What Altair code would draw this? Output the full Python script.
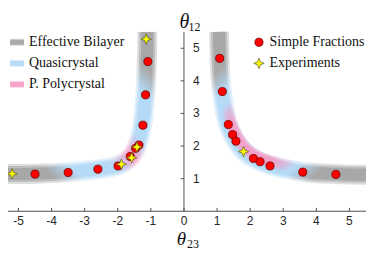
import altair as alt
import pandas as pd

# ---------------- data ----------------
# Simple fractions (red circles)
frac_x = [-1.09, -1.16, -1.24, -1.36, -1.46, -1.62, -1.99, -2.60, -3.50, -4.50,
          1.08, 1.16, 1.34, 1.47, 1.57, 2.10, 2.30, 2.60, 3.59, 4.59]
frac_y = [4.59, 3.57, 2.64, 2.03, 1.93, 1.68, 1.39, 1.29, 1.19, 1.14,
          4.69, 3.67, 2.66, 2.35, 2.15, 1.62, 1.52, 1.39, 1.20, 1.13]
# Experiments (yellow stars)
exp_x = [-1.14, -1.42, -1.58, -1.89, -5.19, 1.80]
exp_y = [5.28, 1.97, 1.64, 1.44, 1.15, 1.83]

# band centre lines
left_band_x = [-1.11, -1.11, -1.13, -1.17, -1.25, -1.40, -1.60, -1.95, -2.60, -3.50, -4.50, -5.60]
left_band_y = [5.50, 5.00, 4.40, 3.60, 2.70, 2.05, 1.68, 1.42, 1.29, 1.20, 1.15, 1.14]
right_band_x = [1.06, 1.07, 1.09, 1.15, 1.32, 1.55, 1.80, 2.10, 2.60, 3.60, 4.60, 5.50]
right_band_y = [5.50, 5.00, 4.40, 3.67, 2.68, 2.18, 1.85, 1.62, 1.41, 1.21, 1.14, 1.12]
pink_x = [1.28, 1.42, 1.62, 1.87, 2.15, 2.63, 3.30]
pink_y = [3.30, 2.72, 2.28, 1.93, 1.72, 1.52, 1.36]

x_ticks = [-5, -4, -3, -2, -1, 0, 1, 2, 3, 4, 5]
x_tick_labels = ["-5", "-4", "-3", "-2", "-1", "0", "1", "2", "3", "4", "5"]
y_ticks = [1, 2, 3, 4, 5]
y_tick_labels = ["1", "2", "3", "4", "5"]

legend_left = ["Effective Bilayer", "Quasicrystal", "P. Polycrystal"]
legend_right = ["Simple Fractions", "Experiments"]

# ---------------- styling ----------------
GRAY = "#a2a2a2"
BLUE = "#b0d8f6"
PINK = "#f59cc6"
PINK0 = "rgba(245,156,198,0)"
AX = "#505050"
TXT = "#262626"
SERIF = "Liberation Serif"
SANS = "Liberation Sans"
STAR = "M0,-1 L0.28,-0.28 L1,0 L0.28,0.28 L0,1 L-0.28,0.28 L-1,0 L-0.28,-0.28 Z"

X0, X1, Y0, Y1 = -5.3, 5.5, 0.0, 5.5
W = (X1 - X0) * 33.2
H = (Y1 - Y0) * 32.7
xs = alt.Scale(domain=[X0, X1], nice=False, zero=False)
ys = alt.Scale(domain=[Y0, Y1], nice=False, zero=False)


def X(f="x"):
    return alt.X(f"{f}:Q", scale=xs, axis=None)


def Y(f="y"):
    return alt.Y(f"{f}:Q", scale=ys, axis=None)


def grad(stops, x1, y1, x2, y2):
    return alt.LinearGradient(
        gradient="linear",
        stops=[alt.GradientStop(offset=o, color=c) for o, c in stops],
        x1=x1, y1=y1, x2=x2, y2=y2)


def band(xv, yv, g, widths, ops):
    df = pd.DataFrame({"x": xv, "y": yv, "o": list(range(len(xv)))})
    out = []
    for w, op in zip(widths, ops):
        out.append(alt.Chart(df).mark_line(
            stroke=g, strokeWidth=w, strokeOpacity=op,
            interpolate="catmull-rom", strokeCap="butt").encode(
            x=X(), y=Y(), order="o:Q"))
    return out


left_grad = grad([(0, GRAY), (0.13, GRAY), (0.23, BLUE), (0.40, BLUE), (0.49, PINK),
                  (0.58, BLUE), (0.73, BLUE), (0.83, GRAY), (1, GRAY)], 1, 0, 0, 1)
right_grad = grad([(0, GRAY), (0.13, GRAY), (0.23, BLUE), (0.73, BLUE), (0.83, GRAY),
                   (1, GRAY)], 0, 0, 1, 1)
pink_grad = grad([(0, PINK0), (0.22, PINK), (0.78, PINK), (1, PINK0)], 0, 0, 1, 1)

WID = [20, 16, 12]
OPS = [0.35, 0.55, 0.8]
layers = []
layers += band(left_band_x, left_band_y, left_grad, WID, OPS)
layers += band(right_band_x, right_band_y, right_grad, WID, OPS)
layers += band(pink_x, pink_y, pink_grad, [12, 8], [0.55, 0.85])

# axes
layers.append(alt.Chart(pd.DataFrame({"x": [-5.6], "x2": [X1], "y": [0]})).mark_rule(
    color=AX, strokeWidth=1).encode(x=X(), x2="x2:Q", y=Y()))
layers.append(alt.Chart(pd.DataFrame({"x": [0], "y": [0], "y2": [Y1]})).mark_rule(
    color=AX, strokeWidth=1).encode(x=X(), y=Y(), y2="y2:Q"))
xt = pd.DataFrame({"x": x_ticks, "lab": x_tick_labels, "y": [0] * len(x_ticks),
                   "y2": [0.1] * len(x_ticks)})
layers.append(alt.Chart(xt).mark_rule(color=AX, strokeWidth=1).encode(x=X(), y=Y(), y2="y2:Q"))
layers.append(alt.Chart(xt).mark_text(font=SANS, fontSize=12, color=TXT, dy=9.5,
                                      baseline="middle", align="center").encode(
    x=X(), y=Y(), text="lab:N"))
yt = pd.DataFrame({"y": y_ticks, "lab": y_tick_labels, "x": [0] * len(y_ticks),
                   "x2": [-0.1] * len(y_ticks)})
layers.append(alt.Chart(yt).mark_rule(color=AX, strokeWidth=1).encode(x=X(), x2="x2:Q", y=Y()))
layers.append(alt.Chart(yt).mark_text(font=SANS, fontSize=12, color=TXT, dx=9,
                                      baseline="middle", align="left").encode(
    x=X(), y=Y(), text="lab:N"))

# points
layers.append(alt.Chart(pd.DataFrame({"x": frac_x, "y": frac_y})).mark_point(
    shape="circle", filled=True, fill="#ff0000", stroke="#6e0000", strokeWidth=0.8,
    size=66, opacity=1).encode(x=X(), y=Y()))
layers.append(alt.Chart(pd.DataFrame({"x": exp_x, "y": exp_y})).mark_point(
    shape=STAR, filled=True, fill="#ffff00", stroke="#5a5a20", strokeWidth=0.7,
    size=110, opacity=1).encode(x=X(), y=Y()))

# axis titles
def txt(s, px, py, size, style="normal", align="center", baseline="alphabetic"):
    return alt.Chart(pd.DataFrame({"t": [s]})).mark_text(
        font=SERIF, fontSize=size, fontStyle=style, color="#111", align=align,
        baseline=baseline).encode(x=alt.value(px), y=alt.value(py), text="t:N")

layers.append(txt("θ", 176.5, -3.6, 20, "italic"))
layers.append(txt("12", 180.5, -0.6, 12, align="left"))
layers.append(txt("θ", 173.5, 213.5, 19, "italic"))
layers.append(txt("23", 179.0, 216.5, 12, align="left"))

# legends
LEG_Y = [10.35, 31.5, 52.6]
LEG_C = [GRAY, BLUE, PINK]
for i, lab in enumerate(legend_left):
    d = pd.DataFrame({"t": [lab]})
    for w, op in [(7, 0.4), (5, 0.85)]:
        layers.append(alt.Chart(d).mark_rule(color=LEG_C[i], strokeWidth=w, opacity=op,
                                             strokeCap="butt").encode(
            x=alt.value(1.5), x2=alt.value(15.5), y=alt.value(LEG_Y[i])))
    layers.append(txt(lab, 20.5, LEG_Y[i], 14, align="left", baseline="middle"))

layers.append(alt.Chart(pd.DataFrame({"t": [legend_right[0]]})).mark_point(
    shape="circle", filled=True, fill="#ff0000", stroke="#6e0000", strokeWidth=0.8,
    size=66, opacity=1).encode(x=alt.value(251.2), y=alt.value(LEG_Y[0])))
layers.append(alt.Chart(pd.DataFrame({"t": [legend_right[1]]})).mark_point(
    shape=STAR, filled=True, fill="#ffff00", stroke="#5a5a20", strokeWidth=0.7,
    size=110, opacity=1).encode(x=alt.value(251.2), y=alt.value(LEG_Y[1])))
layers.append(txt(legend_right[0], 261.8, LEG_Y[0], 14, align="left", baseline="middle"))
layers.append(txt(legend_right[1], 261.8, LEG_Y[1], 14, align="left", baseline="middle"))

chart = alt.layer(*layers).properties(
    width=W, height=H,
    autosize=alt.AutoSizeParams(type="none"),
    padding={"left": 0.54, "top": 23.65, "right": 0, "bottom": 40},
    background="white",
).configure_view(stroke=None)

chart.save("out.html", embed_options={"renderer": "svg", "actions": False})
